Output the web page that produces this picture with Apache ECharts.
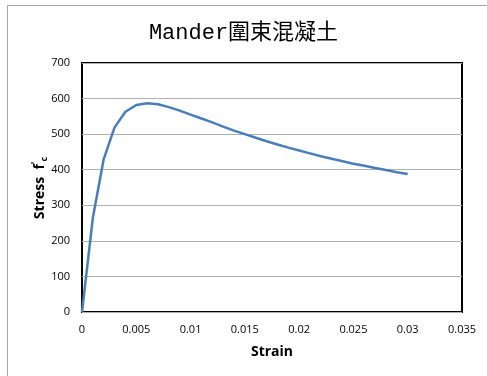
<!DOCTYPE html>
<html>
<head>
<meta charset="utf-8">
<script src="https://cdn.jsdelivr.net/npm/echarts@6/dist/echarts.min.js"></script>
<style>
  html, body { margin: 0; padding: 0; background: #fff; }
  #chart { width: 487px; height: 376px; }
</style>
</head>
<body>
<div id="chart"></div>
<script>
// Confined concrete stress-strain curve (Mander model)
const strain = [0, 0.001, 0.002, 0.003, 0.004, 0.005, 0.006, 0.007, 0.008, 0.009, 0.010,
  0.011, 0.012, 0.013, 0.014, 0.015, 0.016, 0.017, 0.018, 0.019, 0.020,
  0.021, 0.022, 0.023, 0.024, 0.025, 0.026, 0.027, 0.028, 0.029, 0.030];
const stress = [0, 265, 430, 519, 563, 582, 587, 584, 576, 566, 555,
  544, 533, 521, 510, 500, 490, 480, 471, 462, 454,
  446, 438, 431, 424, 417, 411, 405, 399, 393, 388];
const xTicks = [0, 0.005, 0.01, 0.015, 0.02, 0.025, 0.03, 0.035];
const yTicks = [0, 100, 200, 300, 400, 500, 600, 700];

const labelFont = '"Open Sans", "Noto Sans", sans-serif';
const chart = echarts.init(document.getElementById('chart'), null, { renderer: 'canvas' });

chart.setOption({
  animation: false,
  title: {
    text: 'Mander圍束混凝土',
    left: 'center',
    top: 17,
    textStyle: {
      fontFamily: '"Liberation Mono", "Noto Sans CJK TC", monospace',
      fontSize: 22,
      fontWeight: 'normal',
      color: '#000'
    }
  },
  graphic: [{
    type: 'rect',
    shape: { x: 7.5, y: 5.5, width: 490, height: 380 },
    style: { fill: 'none', stroke: '#a6a6a6', lineWidth: 1 },
    z: -1
  }, {
    type: 'text',
    left: 31,
    top: 'middle',
    rotation: Math.PI / 2,
    style: {
      text: '{s|Stress  f}{p|\'}{c|c}',
      rich: {
        s: { fontFamily: labelFont, fontSize: 14, fontWeight: 'bold', fill: '#000' },
        p: { fontFamily: labelFont, fontSize: 10, fontWeight: 'bold', fill: '#000', verticalAlign: 'top', padding: [0, 0, 8, 0] },
        c: { fontFamily: labelFont, fontSize: 9, fontWeight: 'bold', fill: '#000', padding: [8, 0, 0, 0] }
      }
    }
  }],
  grid: {
    left: 82,
    right: 25,
    top: 63,
    bottom: 64,
    show: true,
    borderColor: '#000',
    borderWidth: 2,
    backgroundColor: '#fff'
  },
  xAxis: {
    type: 'value',
    min: xTicks[0],
    max: xTicks[xTicks.length - 1],
    interval: 0.005,
    name: 'Strain',
    nameLocation: 'middle',
    nameGap: 33,
    nameTextStyle: { fontFamily: labelFont, fontSize: 14, fontWeight: 'bold', color: '#000' },
    axisLine: { show: false },
    axisTick: { show: false },
    splitLine: { show: false },
    axisLabel: {
      fontFamily: labelFont, fontSize: 11, color: '#000', margin: 12,
      formatter: v => String(+v.toFixed(3))
    }
  },
  yAxis: {
    type: 'value',
    min: yTicks[0],
    max: yTicks[yTicks.length - 1],
    interval: 100,
    axisLine: { show: false },
    axisTick: { show: false },
    splitLine: { show: true, lineStyle: { color: '#b0b0b0', width: 1 } },
    axisLabel: { fontFamily: labelFont, fontSize: 11, color: '#000', margin: 12 }
  },
  series: [{
    type: 'line',
    data: strain.map((s, i) => [s, stress[i]]),
    showSymbol: false,
    smooth: false,
    lineStyle: { color: '#4a7ebb', width: 2.5 }
  }]
});
</script>
</body>
</html>
